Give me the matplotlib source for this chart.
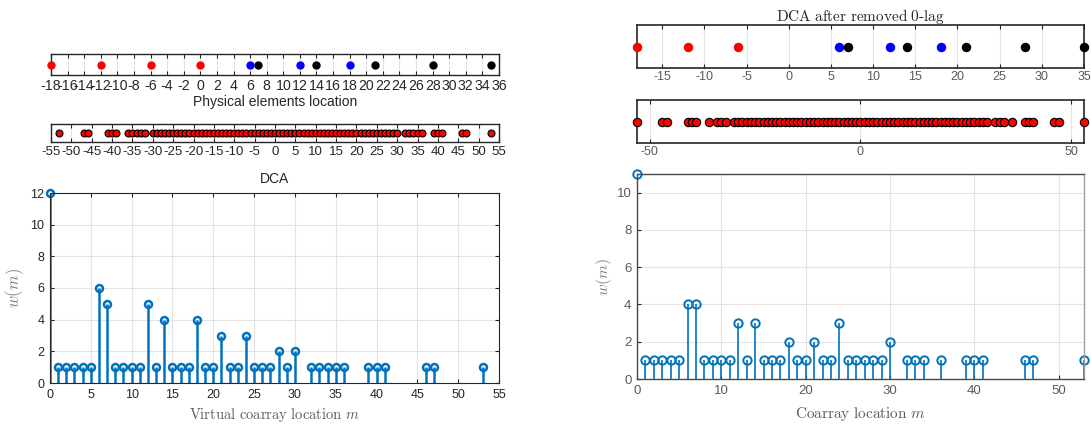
import numpy as np
import matplotlib
matplotlib.use("Agg")
import matplotlib.pyplot as plt

plt.rcParams["mathtext.fontset"] = "cm"
plt.rcParams["axes.unicode_minus"] = False

# ---- data -------------------------------------------------------------
# physical sensor positions (three sub-arrays)
sub_red = [-18, -12, -6, 0]
sub_blue = [6, 12, 18]
sub_black = [7, 14, 21, 28, 35]
# same array once the sensor at 0 is dropped
sub_red_removed = [-18, -12, -6]

# non-negative coarray lags and their weights w(m), full array
lags_full = [0, 1, 2, 3, 4, 5, 6, 7, 8, 9, 10, 11, 12, 13, 14, 15, 16, 17, 18, 19,
             20, 21, 22, 23, 24, 25, 26, 27, 28, 29, 30, 32, 33, 34, 35, 36, 39, 40,
             41, 46, 47, 53]
w_full = [12, 1, 1, 1, 1, 1, 6, 5, 1, 1, 1, 1, 5, 1, 4, 1, 1, 1, 4, 1,
          1, 3, 1, 1, 3, 1, 1, 1, 2, 1, 2, 1, 1, 1, 1, 1, 1, 1,
          1, 1, 1, 1]

# non-negative coarray lags and weights after removing the sensor at 0
lags_removed = [0, 1, 2, 3, 4, 5, 6, 7, 8, 9, 10, 11, 12, 13, 14, 15, 16, 17, 18, 19,
                20, 21, 22, 23, 24, 25, 26, 27, 28, 29, 30, 32, 33, 34, 36, 39, 40, 41,
                46, 47, 53]
w_removed = [11, 1, 1, 1, 1, 1, 4, 4, 1, 1, 1, 1, 3, 1, 3, 1, 1, 1, 2, 1,
             1, 2, 1, 1, 3, 1, 1, 1, 1, 1, 2, 1, 1, 1, 1, 1, 1, 1,
             1, 1, 1]

left_phys_ticks = list(range(-18, 37, 2))
left_dca_ticks = list(range(-55, 56, 5))
right_phys_ticks = list(range(-15, 36, 5))
right_dca_ticks = [-50, 0, 50]

# ---- figure ----------------------------------------------------------
W, H = 1091, 428
fig = plt.figure(figsize=(W / 100, H / 100), dpi=100)


def px_axes(x0, y0, x1, y1):
    return fig.add_axes([x0 / W, 1 - y1 / H, (x1 - x0) / W, (y1 - y0) / H])


STEM = "#0072BD"
GRID = "#e3e3e3"
DARK = "#262626"
LIGHT_TXT = "#5a5a5a"
SANS = "Liberation Sans"


def strip_axes(ax, xlim, ticks, lw=1.0, tick_color=DARK, tick_size=7.5, font=SANS, pad=3):
    ax.set_xlim(*xlim)
    ax.set_ylim(-1, 1)
    ax.set_yticks([])
    ax.set_xticks(ticks)
    ax.tick_params(axis="x", direction="in", top=True, bottom=True, length=3,
                   width=0.8, color=DARK, labelsize=tick_size, labelcolor=tick_color,
                   pad=pad)
    for lab in ax.get_xticklabels():
        lab.set_fontfamily(font)
    ax.grid(axis="x", color=GRID, lw=0.8)
    ax.set_axisbelow(True)
    for s in ax.spines.values():
        s.set_color(DARK)
        s.set_linewidth(lw)


def sym(lags):
    lags = np.asarray(lags)
    return np.concatenate([-lags[::-1][:-1], lags])


# ---------------- left column ----------------
ax1 = px_axes(51, 54, 499, 75)
strip_axes(ax1, (-18, 36), left_phys_ticks, tick_size=10.2, pad=3)
ax1.plot(sub_red, np.zeros(len(sub_red)), "o", color="red", ms=5, clip_on=False, zorder=3)
ax1.plot(sub_blue, np.zeros(len(sub_blue)), "o", color="blue", ms=5, clip_on=False, zorder=3)
ax1.plot(sub_black, np.zeros(len(sub_black)), "o", color="black", ms=5, clip_on=False, zorder=3)
ax1.set_xlabel("Physical elements location", fontsize=10, family=SANS, color=DARK, labelpad=1)

ax2 = px_axes(51, 124, 499, 142)
strip_axes(ax2, (-55, 55), left_dca_ticks, tick_size=9.5, pad=3)
pos_full = sym(lags_full)
ax2.plot(pos_full, np.zeros(len(pos_full)), "o", mfc="red", mec="black", mew=0.8,
         ms=5, clip_on=False, zorder=3)

ax3 = px_axes(50, 193, 499, 383)
ml, sl, bl = ax3.stem(lags_full, w_full, linefmt="-", markerfmt="o", basefmt=" ")
sl.set_color(STEM)
sl.set_linewidth(1.8)
ml.set_markerfacecolor("none")
ml.set_markeredgecolor(STEM)
ml.set_markeredgewidth(1.8)
ml.set_markersize(5)
ml.set_clip_on(False)
ax3.set_xlim(0, 55)
ax3.set_ylim(0, 12)
ax3.set_xticks(range(0, 56, 5))
ax3.set_yticks(range(0, 13, 2))
ax3.grid(True, color=GRID, lw=0.8)
ax3.set_axisbelow(True)
ax3.tick_params(direction="in", length=3, width=0.8, color=DARK, labelsize=9,
                labelcolor=DARK, top=True, right=True, pad=4)
for lab in ax3.get_xticklabels() + ax3.get_yticklabels():
    lab.set_fontfamily(SANS)
for s in ax3.spines.values():
    s.set_color(DARK)
    s.set_linewidth(0.8)
ax3.set_title("DCA", fontsize=10, family=SANS, color=DARK, pad=7)
ax3.set_xlabel(r"$\mathrm{Virtual\ coarray\ location}\ m$", fontsize=10.5,
               color=LIGHT_TXT, labelpad=4)
ax3.set_ylabel(r"$w(m)$", fontsize=12, color="#808080", labelpad=3)

# ---------------- right column ----------------
ax4 = px_axes(637, 25, 1084, 68)
strip_axes(ax4, (-18, 35), right_phys_ticks, lw=1.2, tick_color=LIGHT_TXT, tick_size=9, pad=2)
ax4.plot(sub_red_removed, np.zeros(len(sub_red_removed)), "o", color="red", ms=5.8,
         clip_on=False, zorder=3)
ax4.plot(sub_blue, np.zeros(len(sub_blue)), "o", color="blue", ms=5.8, clip_on=False, zorder=3)
ax4.plot(sub_black, np.zeros(len(sub_black)), "o", color="black", ms=5.8, clip_on=False, zorder=3)
ax4.set_title(r"$\mathrm{DCA\ after\ removed\ 0}$" + "-" + r"$\mathrm{lag}$",
              fontsize=11, color=DARK, pad=3, family="cmr10")

ax5 = px_axes(637, 100, 1084, 143)
strip_axes(ax5, (-53, 53), right_dca_ticks, lw=1.2, tick_color=LIGHT_TXT, tick_size=9, pad=2)
pos_removed = sym(lags_removed)
ax5.plot(pos_removed, np.zeros(len(pos_removed)), "o", mfc="red", mec="black", mew=0.8,
         ms=6, clip_on=False, zorder=3)

ax6 = px_axes(637, 174, 1084, 379)
ml, sl, bl = ax6.stem(lags_removed, w_removed, linefmt="-", markerfmt="o", basefmt=" ")
sl.set_color(STEM)
sl.set_linewidth(1.2)
ml.set_markerfacecolor("none")
ml.set_markeredgecolor(STEM)
ml.set_markeredgewidth(1.4)
ml.set_markersize(6)
ml.set_clip_on(False)
ax6.set_xlim(0, 53)
ax6.set_ylim(0, 11)
ax6.set_xticks(range(0, 51, 10))
ax6.set_yticks(range(0, 11, 2))
ax6.grid(True, color=GRID, lw=0.8)
ax6.set_axisbelow(True)
ax6.tick_params(direction="in", length=3, width=0.8, color=DARK, labelsize=9.5,
                labelcolor=LIGHT_TXT, pad=4)
for lab in ax6.get_xticklabels() + ax6.get_yticklabels():
    lab.set_fontfamily(SANS)
for name, s in ax6.spines.items():
    s.set_linewidth(1.0)
    s.set_color("#a0a0a0" if name == "right" else "#4a4a4a")
ax6.set_xlabel(r"$\mathrm{Coarray\ location}\ m$", fontsize=11, color=LIGHT_TXT, labelpad=6)
ax6.set_ylabel(r"$w(m)$", fontsize=11.5, color="#808080", labelpad=2)

fig.savefig("out.png", dpi=100, facecolor="white")
